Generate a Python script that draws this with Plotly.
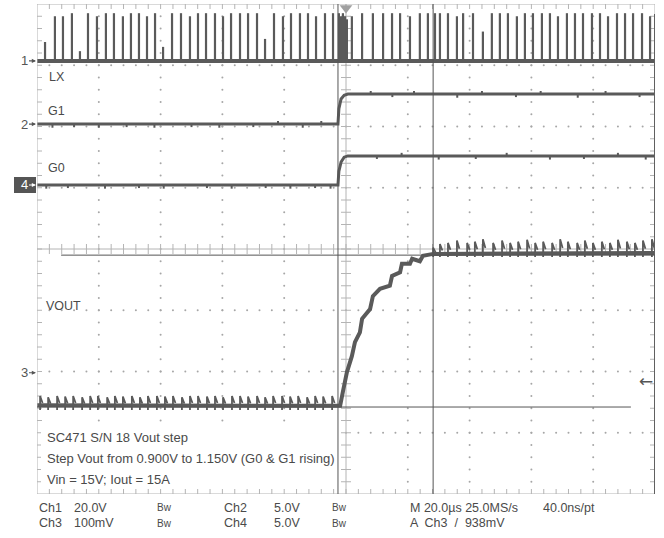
import plotly.graph_objects as go

# ---------------- data (time in µs, 20 µs/div; amplitude in screen divisions) -------------
# LX (Ch1) switching pulses
lx_base = 3.07
lx_pulse_t = [-97.4, -94.2, -91.6, -88.7, -86.1, -83.5, -80.6, -77.7, -75.1, -72.2,
              -69.6, -67.0, -64.4, -61.8, -59.2, -56.3, -53.4, -50.5, -47.9, -45.3,
              -42.4, -39.8, -37.2, -34.3, -31.7, -28.8, -26.2, -23.3, -20.4, -17.8,
              -14.9, -12.3, -9.7, -6.8, -4.2, -2.3, -1.6, -1.0, -0.3, 0.3,
              1.9, 5.2, 8.7, 12.0, 14.9, 17.5, 20.7, 23.9, 26.5, 28.8,
              30.4, 33.0, 35.9, 37.9, 41.1, 44.3, 47.2, 49.8, 52.4, 55.3,
              57.9, 60.5, 63.4, 66.0, 68.6, 71.5, 74.1, 76.7, 79.6, 82.2,
              84.8, 87.7, 90.3, 92.9, 95.8, 98.4]
lx_pulse_top = [3.38, 3.80, 3.80, 3.85, 3.23, 3.85, 3.80, 3.85, 3.85, 3.80,
                3.85, 3.85, 3.80, 3.85, 3.30, 3.85, 3.85, 3.80, 3.85, 3.85,
                3.85, 3.80, 3.85, 3.85, 3.85, 3.85, 3.43, 3.85, 3.80, 3.85,
                3.85, 3.85, 3.80, 3.85, 3.85, 3.85, 3.80, 3.85, 3.80, 3.75,
                3.80, 3.85, 3.85, 3.85, 3.85, 3.85, 3.80, 3.85, 3.85, 3.85,
                3.85, 3.85, 3.80, 3.85, 3.85, 3.55, 3.85, 3.85, 3.85, 3.80,
                3.85, 3.85, 3.85, 3.85, 3.80, 3.85, 3.85, 3.85, 3.85, 3.85,
                3.80, 3.85, 3.85, 3.85, 3.85, 3.80]

# G1 (Ch2) and G0 (Ch4) logic steps
g1_t = [-100.0, -2.6, -2.3, -1.6, -0.6, 0.6, 100.0]
g1_v = [2.04, 2.04, 2.29, 2.45, 2.51, 2.53, 2.53]
g0_t = [-100.0, -2.6, -2.3, -1.6, -0.6, 0.6, 100.0]
g0_v = [1.045, 1.045, 1.27, 1.42, 1.50, 1.52, 1.52]
g1_noise_t = [-95, -88, -80, -71, -62, -50, -41, -30, -22, -14, -8, 8, 15, 22, 36, 44, 55, 63, 75, 84, 95]
g1_noise_d = [-0.06, -0.05, -0.06, -0.05, -0.06, -0.05, -0.06, -0.05, 0.05, -0.06, 0.05,
              0.05, -0.05, 0.05, -0.06, 0.05, -0.05, 0.05, -0.06, 0.05, -0.05]
g0_noise_t = [-97, -90, -78, -67, -59, -45, -37, -26, -18, -10, -5, 10, 18, 30, 42, 52, 66, 77, 88, 97]
g0_noise_d = [-0.06, -0.05, -0.06, -0.05, -0.06, -0.05, -0.06, -0.05, -0.06, -0.05, -0.06,
              -0.05, 0.05, -0.06, -0.05, 0.05, -0.06, -0.05, 0.05, -0.06]

# VOUT (Ch3) envelope
vout_t = [-100.0, -2.6, -1.9, -1.0, 0.3, 1.9, 2.9, 4.5, 5.2, 7.8, 8.7, 11.0, 14.2, 14.9,
          17.5, 18.1, 20.7, 21.4, 23.9, 24.9, 28.2, 100.0]
vout_v = [-2.55, -2.55, -2.56, -2.33, -2.01, -1.75, -1.52, -1.36, -1.14, -0.98, -0.77, -0.65,
          -0.60, -0.44, -0.38, -0.24, -0.24, -0.16, -0.20, -0.11, -0.08, -0.065]
# VOUT ripple spikes: time, bottom, top
vout_spike_t = [-99.0, -96.4, -93.5, -90.9, -88.3, -85.4, -82.8, -80.3, -77.3, -74.8,
                -72.2, -69.3, -66.7, -64.1, -61.2, -58.6, -56.0, -53.1, -50.5, -47.9,
                -45.0, -42.4, -39.8, -36.9, -34.3, -31.7, -28.8, -26.2, -23.6, -20.7,
                -18.1, -15.5, -12.6, -10.0, -7.4, -4.5,
                28.2, 30.4, 33.0, 35.9, 39.2, 41.7, 44.3, 47.6, 50.5, 53.1, 55.7, 58.6,
                61.2, 63.8, 66.7, 69.3, 71.8, 74.8, 77.3, 79.9, 82.8, 85.4, 88.0, 90.9,
                93.5, 96.1, 99.0]
vout_spike_lo = [-2.63] * 36 + [-0.13] * 27
vout_spike_hi = [-2.40, -2.42, -2.40, -2.41, -2.40, -2.42, -2.40, -2.40, -2.42, -2.40,
                 -2.41, -2.40, -2.42, -2.40, -2.40, -2.41, -2.40, -2.42, -2.40, -2.40,
                 -2.41, -2.40, -2.42, -2.40, -2.40, -2.41, -2.40, -2.42, -2.40, -2.40,
                 -2.41, -2.40, -2.42, -2.40, -2.41, -2.40,
                 0.02, 0.08, 0.10, 0.14, 0.10, 0.12, 0.16, 0.10, 0.14, 0.10, 0.12, 0.15,
                 0.10, 0.12, 0.10, 0.16, 0.12, 0.10, 0.14, 0.10, 0.12, 0.10, 0.15, 0.12,
                 0.10, 0.14, 0.16]

# cursors
vcursor_t = [-2.6, 28.2]
hcursor_v = [-0.10, -2.58]
hcursor_from = [-92.2, -100.0]
hcursor_to = [100.0, 92.2]

# channel markers (label, level)
ch_labels = ["1", "2", "4", "3"]
ch_levels = [3.07, 2.04, 1.045, -2.02]

# ---------------- styles ----------------
TR = "#5a5a5a"
GRID = "#a6a6a6"
TXT = "#4a4a4a"
FONT = "Liberation Sans Narrow, Arial Narrow, Liberation Sans, Arial, sans-serif"
PXT = 200.0 / 618.0   # µs per pixel
PXV = 8.0 / 490.0     # div per pixel

fig = go.Figure()

# graticule dots
gx, gy = [], []
for k in range(-4, 5):
    if k == 0:
        continue
    for j in range(-19, 20):
        gx.append(20 * k); gy.append(j * 0.2)
for k in range(-3, 4):
    if k == 0:
        continue
    for j in range(-24, 25):
        gx.append(j * 4); gy.append(k)
fig.add_trace(go.Scatter(x=gx, y=gy, mode="markers",
                         marker=dict(size=2, color=GRID), hoverinfo="skip"))

# ticks on borders and centre axes
tx, ty = [], []
tl = 5
for j in range(-19, 20):
    y = j * 0.2
    for x0, x1 in ((-100, -100 + tl * PXT), (100, 100 - tl * PXT), (-tl * PXT, tl * PXT)):
        tx += [x0, x1, None]; ty += [y, y, None]
for j in range(-24, 25):
    x = j * 4
    for y0, y1 in ((4, 4 - tl * PXV), (-4, -4 + tl * PXV), (-tl * PXV, tl * PXV)):
        tx += [x, x, None]; ty += [y0, y1, None]
tx += [-100, 100, None, 0, 0, None]; ty += [0, 0, None, -4, 4, None]
fig.add_trace(go.Scatter(x=tx, y=ty, mode="lines", line=dict(color="#b4b4b4", width=1),
                         hoverinfo="skip"))

# LX baseline + pulses
fig.add_trace(go.Scatter(x=[-100, 100], y=[lx_base, lx_base], mode="lines",
                         line=dict(color=TR, width=4), hoverinfo="skip"))
px_, py_ = [], []
for t, top in zip(lx_pulse_t, lx_pulse_top):
    px_ += [t, t, None]; py_ += [lx_base, top, None]
fig.add_trace(go.Scatter(x=px_, y=py_, mode="lines", line=dict(color=TR, width=2.2),
                         hoverinfo="skip"))

# G1 / G0
for tt, vv, nt, nd in ((g1_t, g1_v, g1_noise_t, g1_noise_d), (g0_t, g0_v, g0_noise_t, g0_noise_d)):
    fig.add_trace(go.Scatter(x=tt, y=vv, mode="lines", line=dict(color=TR, width=3),
                             hoverinfo="skip"))
    nx, ny = [], []
    for t, d in zip(nt, nd):
        base = vv[0] if t < 0 else vv[-1]
        nx += [t, t, None]; ny += [base, base + d, None]
    fig.add_trace(go.Scatter(x=nx, y=ny, mode="lines", line=dict(color=TR, width=2),
                             hoverinfo="skip"))

# VOUT
fig.add_trace(go.Scatter(x=vout_t, y=vout_v, mode="lines", line=dict(color=TR, width=4),
                         hoverinfo="skip"))
sx, sy = [], []
for t, lo, hi in zip(vout_spike_t, vout_spike_lo, vout_spike_hi):
    sx += [t, t, t + 0.8, None]; sy += [lo, hi, (lo + hi) / 2, None]
fig.add_trace(go.Scatter(x=sx, y=sy, mode="lines", line=dict(color=TR, width=1.8),
                         hoverinfo="skip"))

# trigger marker
fig.add_trace(go.Scatter(x=[0], y=[4 - 4 * PXV], mode="markers", cliponaxis=False,
                         marker=dict(symbol="triangle-down", size=11, color="#a0a0a0"),
                         hoverinfo="skip"))

shapes = []
# white text box in lower-left
shapes.append(dict(type="rect", xref="x", yref="y", x0=-100 + 4 * PXT, x1=-2.9,
                   y0=-4 + 7 * PXV, y1=-4 + 66 * PXV, fillcolor="white", line_width=0,
                   layer="above"))
# border
shapes.append(dict(type="rect", xref="x", yref="y", x0=-100, x1=100, y0=-4, y1=4,
                   line=dict(color="#b4b4b4", width=1)))
shapes.append(dict(type="line", xref="x", yref="y", x0=100, x1=100, y0=-4.7, y1=4 - 10 * PXV,
                   line=dict(color="#606060", width=2), layer="above"))
# cursors
for t in vcursor_t:
    shapes.append(dict(type="line", xref="x", yref="y", x0=t, x1=t, y0=-4, y1=4,
                       line=dict(color="#555555", width=1), layer="above"))
for v, a, b in zip(hcursor_v, hcursor_from, hcursor_to):
    shapes.append(dict(type="line", xref="x", yref="y", x0=a, x1=b, y0=v, y1=v,
                       line=dict(color="#555555", width=1), layer="above"))
# "4" marker box
shapes.append(dict(type="rect", xref="paper", yref="y", x0=-23 / 618, x1=-1 / 618,
                   y0=ch_levels[2] - 8 * PXV, y1=ch_levels[2] + 8 * PXV,
                   fillcolor="#555555", line_width=0))

ann = []
for lab, lev in zip(ch_labels, ch_levels):
    col = "white" if lab == "4" else "#555555"
    ann.append(dict(x=-100, y=lev, xref="x", yref="y", text=lab, showarrow=True,
                    ax=-13, ay=0, arrowhead=2, arrowsize=0.7, arrowwidth=1.2,
                    arrowcolor=col, standoff=1, font=dict(family=FONT, size=13, color=col)))


def txt(s, px, py, size=12.5, color=TXT, family=FONT):
    ann.append(dict(x=(px - 37) / 618, y=(494 - py) / 490, xref="paper", yref="paper",
                    text=s, showarrow=False, xanchor="left", yanchor="middle",
                    font=dict(family=family, size=size, color=color)))


txt("←", 637, 381, size=17, color="#555555", family="DejaVu Sans")
txt("LX", 47, 77)
txt("G1", 46, 111)
txt("G0", 46, 168)
txt("VOUT", 44, 306)
txt("SC471 S/N 18 Vout step", 45, 437, size=13)
txt("Step Vout from 0.900V to 1.150V (G0 &amp; G1 rising)", 45, 458, size=13)
txt("Vin = 15V; Iout = 15A", 45, 479, size=13)

row1 = [("Ch1", 37), ("20.0V", 72), ("Bw", 155), ("Ch2", 222), ("5.0V", 272),
        ("Bw", 330), ("M 20.0µs 25.0MS/s", 408), ("40.0ns/pt", 541)]
row2 = [("Ch3", 37), ("100mV", 72), ("Bw", 155), ("Ch4", 222), ("5.0V", 272),
        ("Bw", 330), ("A  Ch3  /  938mV", 408)]
for s, x in row1:
    txt(s, x, 508, size=10 if s == "Bw" else 12.5)
for s, x in row2:
    txt(s, x, 523, size=10 if s == "Bw" else 12.5)

fig.update_layout(
    width=664, height=538,
    margin=dict(l=37, r=9, t=4, b=44),
    paper_bgcolor="white", plot_bgcolor="white",
    showlegend=False,
    xaxis=dict(range=[-100, 100], showgrid=False, zeroline=False, showticklabels=False,
               ticks="", fixedrange=True),
    yaxis=dict(range=[-4, 4], showgrid=False, zeroline=False, showticklabels=False,
               ticks="", fixedrange=True),
    shapes=shapes, annotations=ann,
)

fig.write_html("out.html", config={"displayModeBar": False},
               post_script="document.body.style.margin='0';")
